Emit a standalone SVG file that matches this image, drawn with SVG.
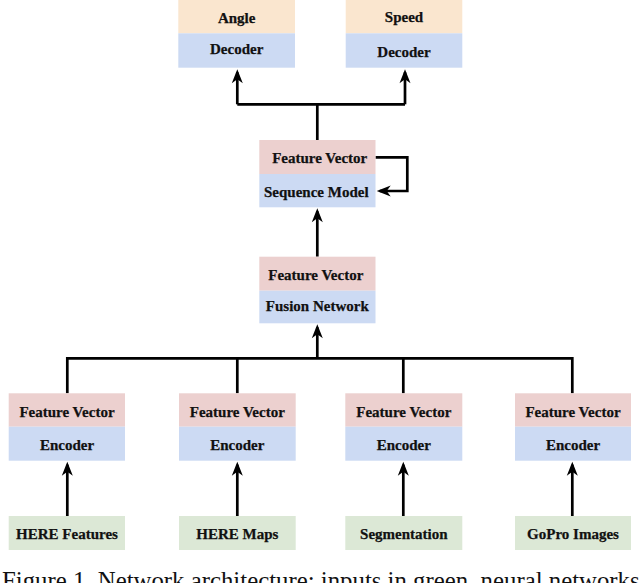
<svg xmlns="http://www.w3.org/2000/svg" width="640" height="583" viewBox="0 0 640 583">
<defs>
<marker id="arr" markerUnits="userSpaceOnUse" viewBox="0 0 16 12" markerWidth="16" markerHeight="12" refX="12" refY="6" orient="auto">
<path d="M15,6 L1,0.5 L5,6 L1,11.5 Z" fill="#000"/>
</marker>
<style>
.red{fill:#ecd0cf}
.blue{fill:#ccdaf3}
.green{fill:#dce8d6}
.orange{fill:#fae6cf}
.t{font-family:"Liberation Serif","Times New Roman",serif;font-weight:bold;font-size:15px;fill:#111;stroke:#111;stroke-width:0.25;text-anchor:middle}
.ln{fill:none;stroke:#000;stroke-width:2.7}
.cap{font-family:"Liberation Serif","Times New Roman",serif;font-size:24.8px;fill:#111}
</style>
</defs>
<rect width="640" height="583" fill="#fff"/>
<g id="connectors">
<path class="ln" d="M317.3,140 V104.3 M237.3,104.3 H405"/>
<path class="ln" marker-end="url(#arr)" d="M237.3,104.3 V72.3"/>
<path class="ln" marker-end="url(#arr)" d="M405,104.3 V72.3"/>
<path class="ln" marker-end="url(#arr)" d="M375.5,157.3 H407.3 V191 H379.7"/>
<path class="ln" marker-end="url(#arr)" d="M317.3,256.7 V211.3"/>
<path class="ln" d="M67.3,393.3 V358.3 H572.3 V393.3 M237.3,358.3 V393.3 M403.3,358.3 V393.3"/>
<path class="ln" marker-end="url(#arr)" d="M317.3,358.3 V327.3"/>
<path class="ln" marker-end="url(#arr)" d="M67.3,516 V464.7"/>
<path class="ln" marker-end="url(#arr)" d="M237.3,516 V464.7"/>
<path class="ln" marker-end="url(#arr)" d="M403.3,516 V464.7"/>
<path class="ln" marker-end="url(#arr)" d="M572.3,516 V464.7"/>
</g>
<g id="angle">
<rect class="orange" x="178.3" y="-1" width="116.7" height="34.3"/>
<rect class="blue" x="178.3" y="33.3" width="116.7" height="34.4"/>
<text class="t" x="236.7" y="22.7">Angle</text>
<text class="t" x="236.7" y="54">Decoder</text>
</g>
<g id="speed">
<rect class="orange" x="345.7" y="-1" width="116.6" height="34.3"/>
<rect class="blue" x="345.7" y="33.3" width="116.6" height="34.4"/>
<text class="t" x="404" y="21.7">Speed</text>
<text class="t" x="404" y="57">Decoder</text>
</g>
<g id="sequence">
<rect class="red" x="259.3" y="140" width="116.2" height="34"/>
<rect class="blue" x="259.3" y="174" width="116.2" height="33.3"/>
<text class="t" x="319.7" y="163">Feature Vector</text>
<text class="t" x="316.3" y="196.5">Sequence Model</text>
</g>
<g id="fusion">
<rect class="red" x="259.3" y="256.7" width="116.2" height="34"/>
<rect class="blue" x="259.3" y="290.7" width="116.2" height="32.6"/>
<text class="t" x="315.8" y="279.5">Feature Vector</text>
<text class="t" x="317.3" y="311">Fusion Network</text>
</g>
<g id="enc1">
<rect class="red" x="8.7" y="393.3" width="116.3" height="33.4"/>
<rect class="blue" x="8.7" y="426.7" width="116.3" height="34"/>
<text class="t" x="67" y="416.5">Feature Vector</text>
<text class="t" x="67" y="450">Encoder</text>
</g>
<g id="enc2">
<rect class="red" x="179" y="393.3" width="116.7" height="33.4"/>
<rect class="blue" x="179" y="426.7" width="116.7" height="34"/>
<text class="t" x="237.3" y="416.5">Feature Vector</text>
<text class="t" x="237.3" y="450">Encoder</text>
</g>
<g id="enc3">
<rect class="red" x="345.3" y="393.3" width="117" height="33.4"/>
<rect class="blue" x="345.3" y="426.7" width="117" height="34"/>
<text class="t" x="403.8" y="416.5">Feature Vector</text>
<text class="t" x="403.8" y="450">Encoder</text>
</g>
<g id="enc4">
<rect class="red" x="515" y="393.3" width="116" height="33.4"/>
<rect class="blue" x="515" y="426.7" width="116" height="34"/>
<text class="t" x="573" y="416.5">Feature Vector</text>
<text class="t" x="573" y="450">Encoder</text>
</g>
<g id="in1">
<rect class="green" x="8.7" y="516" width="116.3" height="34"/>
<text class="t" x="67" y="538.5">HERE Features</text>
</g>
<g id="in2">
<rect class="green" x="179" y="516" width="116.7" height="34"/>
<text class="t" x="237.3" y="538.5">HERE Maps</text>
</g>
<g id="in3">
<rect class="green" x="345.3" y="516" width="117" height="34"/>
<text class="t" x="403.8" y="538.5">Segmentation</text>
</g>
<g id="in4">
<rect class="green" x="515" y="516" width="116" height="34"/>
<text class="t" x="573" y="538.5">GoPro Images</text>
</g>
<text class="cap" x="2" y="589">Figure 1. Network architecture: inputs in green, neural networks</text>
</svg>
